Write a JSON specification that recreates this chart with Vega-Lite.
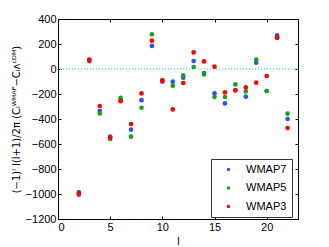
{
  "$schema": "https://vega.github.io/schema/vega-lite/v6.json",
  "width": 240,
  "height": 200,
  "autosize": {"type": "none"},
  "padding": {"left": 58, "top": 19, "right": 31, "bottom": 28},
  "background": "white",
  "config": {
    "view": {"stroke": "black", "strokeWidth": 1},
    "font": "Liberation Sans",
    "axis": {
      "grid": false,
      "domainColor": "black",
      "tickColor": "black",
      "labelColor": "black",
      "labelFont": "Liberation Sans",
      "labelFontSize": 11,
      "titleFont": "DejaVu Sans",
      "titleFontWeight": "normal",
      "titleColor": "black",
      "titleFontSize": 10,
      "tickSize": -3,
      "labelPadding": 5
    }
  },
  "data": {
    "values": [
      {"l": 2, "s": "WMAP7", "v": -1005}, {"l": 2, "s": "WMAP5", "v": -985}, {"l": 2, "s": "WMAP3", "v": -995},
      {"l": 3, "s": "WMAP7", "v": 63}, {"l": 3, "s": "WMAP5", "v": 72}, {"l": 3, "s": "WMAP3", "v": 75},
      {"l": 4, "s": "WMAP7", "v": -334}, {"l": 4, "s": "WMAP5", "v": -355}, {"l": 4, "s": "WMAP3", "v": -296},
      {"l": 5, "s": "WMAP7", "v": -541}, {"l": 5, "s": "WMAP5", "v": -560}, {"l": 5, "s": "WMAP3", "v": -548},
      {"l": 6, "s": "WMAP7", "v": -250}, {"l": 6, "s": "WMAP5", "v": -230}, {"l": 6, "s": "WMAP3", "v": -257},
      {"l": 7, "s": "WMAP7", "v": -485}, {"l": 7, "s": "WMAP5", "v": -541}, {"l": 7, "s": "WMAP3", "v": -440},
      {"l": 8, "s": "WMAP7", "v": -249}, {"l": 8, "s": "WMAP5", "v": -310}, {"l": 8, "s": "WMAP3", "v": -195},
      {"l": 9, "s": "WMAP7", "v": 185}, {"l": 9, "s": "WMAP5", "v": 278}, {"l": 9, "s": "WMAP3", "v": 227},
      {"l": 10, "s": "WMAP7", "v": -102}, {"l": 10, "s": "WMAP5", "v": -89}, {"l": 10, "s": "WMAP3", "v": -92},
      {"l": 11, "s": "WMAP7", "v": -101}, {"l": 11, "s": "WMAP5", "v": -133}, {"l": 11, "s": "WMAP3", "v": -323},
      {"l": 12, "s": "WMAP7", "v": -69}, {"l": 12, "s": "WMAP5", "v": -51}, {"l": 12, "s": "WMAP3", "v": -112},
      {"l": 13, "s": "WMAP7", "v": 64}, {"l": 13, "s": "WMAP5", "v": 16}, {"l": 13, "s": "WMAP3", "v": 133},
      {"l": 14, "s": "WMAP7", "v": -32}, {"l": 14, "s": "WMAP5", "v": -43}, {"l": 14, "s": "WMAP3", "v": 61},
      {"l": 15, "s": "WMAP7", "v": -195}, {"l": 15, "s": "WMAP5", "v": -224}, {"l": 15, "s": "WMAP3", "v": 19},
      {"l": 16, "s": "WMAP7", "v": -275}, {"l": 16, "s": "WMAP5", "v": -224}, {"l": 16, "s": "WMAP3", "v": -187},
      {"l": 17, "s": "WMAP7", "v": -168}, {"l": 17, "s": "WMAP5", "v": -123}, {"l": 17, "s": "WMAP3", "v": -171},
      {"l": 18, "s": "WMAP7", "v": -221}, {"l": 18, "s": "WMAP5", "v": -179}, {"l": 18, "s": "WMAP3", "v": -147},
      {"l": 19, "s": "WMAP7", "v": 51}, {"l": 19, "s": "WMAP5", "v": 75}, {"l": 19, "s": "WMAP3", "v": -109},
      {"l": 20, "s": "WMAP7", "v": -176}, {"l": 20, "s": "WMAP5", "v": -176}, {"l": 20, "s": "WMAP3", "v": -56},
      {"l": 21, "s": "WMAP7", "v": 269}, {"l": 21, "s": "WMAP5", "v": 248}, {"l": 21, "s": "WMAP3", "v": 253},
      {"l": 22, "s": "WMAP7", "v": -400}, {"l": 22, "s": "WMAP5", "v": -357}, {"l": 22, "s": "WMAP3", "v": -472}
    ]
  },
  "layer": [
    {
      "mark": {"type": "rule", "color": "#7fe8e8", "strokeDash": [1, 2], "strokeWidth": 1},
      "encoding": {
        "y": {"datum": 0, "type": "quantitative", "scale": {"domain": [-1200, 400]}, "axis": {"orient": "right", "labels": false, "title": null, "domain": false, "values": [-1200, -1000, -800, -600, -400, -200, 0, 200, 400]}}
      }
    },
    {
      "mark": {"type": "point", "filled": true, "size": 22, "opacity": 1},
      "encoding": {
        "x": {"field": "l", "type": "quantitative", "scale": {"domain": [0, 23], "nice": false}, "axis": {"title": "l", "values": [0, 5, 10, 15, 20], "titlePadding": 3, "titleFont": "Liberation Sans", "titleFontSize": 11}},
        "y": {"field": "v", "type": "quantitative", "scale": {"domain": [-1200, 400], "nice": false}, "axis": {"title": "(−1)ˡ l(l+1)/2π (Cₗᵂᴹᴬᴾ−Cₗᴧᶜᴰᴹ)", "format": "d", "values": [-1200, -1000, -800, -600, -400, -200, 0, 200, 400], "titlePadding": 4}},
        "color": {"field": "s", "type": "nominal", "sort": ["WMAP7", "WMAP5", "WMAP3"],
          "scale": {"domain": ["WMAP7", "WMAP5", "WMAP3"], "range": ["#2f4fff", "#1e9e1e", "#ff0000"]},
          "legend": {"title": null, "orient": "none", "legendX": 153, "legendY": 140, "strokeColor": "#333333", "fillColor": "white", "padding": 5, "symbolSize": 12, "symbolType": "circle", "labelFontSize": 11, "labelFont": "Liberation Sans", "labelColor": "black", "rowPadding": 6.5, "symbolOffset": 7, "labelOffset": 12}
        }
      }
    },
    {
      "mark": {"type": "point", "opacity": 0},
      "encoding": {
        "x": {"field": "l", "type": "quantitative", "scale": {"domain": [0, 23], "nice": false}, "axis": {"orient": "top", "labels": false, "title": null, "domain": false, "values": [0, 5, 10, 15, 20]}}
      }
    }
  ],
  "resolve": {"axis": {"x": "independent", "y": "independent"}}
}
